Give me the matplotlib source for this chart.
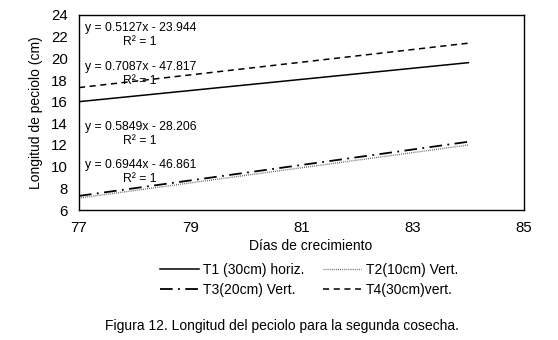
import matplotlib.pyplot as plt

plt.rcParams['font.family'] = ['Liberation Sans', 'DejaVu Sans']

# trend line end points
dias = [77, 84]
t1 = [16.0, 19.6]
t2 = [7.1, 12.0]
t3 = [7.3, 12.3]
t4 = [17.3, 21.4]

ecuaciones = ['y = 0.5127x - 23.944', 'y = 0.7087x - 47.817',
              'y = 0.5849x - 28.206', 'y = 0.6944x - 46.861']
eq_y = [28, 67, 127, 165]  # pixel rows of the labels

W, H = 558, 340
fig = plt.figure(figsize=(W / 100, H / 100), dpi=100)
ax = fig.add_axes([79 / W, 1 - 210 / H, (524 - 79) / W, (210 - 15) / H])

l1, = ax.plot(dias, t1, color='black', lw=1.1, ls='-', label='T1 (30cm) horiz.')
l2, = ax.plot(dias, t2, color='#555555', lw=1.0, ls=(0, (0.6, 0.9)), label='T2(10cm) Vert.')
l3, = ax.plot(dias, t3, color='black', lw=1.3, ls=(0, (7, 3, 1, 3)), label='T3(20cm) Vert.')
l4, = ax.plot(dias, t4, color='black', lw=1.1, ls=(0, (4, 3)), label='T4(30cm)vert.')

ax.set_xlim(77, 85)
ax.set_ylim(6, 24)
ax.set_xticks([77, 79, 81, 83, 85])
ax.set_yticks(range(6, 25, 2))
ax.tick_params(length=0, labelsize=10.8)
ax.tick_params(axis='y', pad=8)
ax.tick_params(axis='x', pad=8)
for s in ax.spines.values():
    s.set_linewidth(1.0)
    s.set_color('black')

ax.set_ylabel('Longitud de peciolo (cm)', fontsize=10, labelpad=6)
fig.text(311 / W, 1 - 246 / H, 'Días de crecimiento', fontsize=10, ha='center', va='center')

for txt, yp in zip(ecuaciones, eq_y):
    fig.text(85 / W, 1 - yp / H, txt, fontsize=8.8, va='center', ha='left')
    fig.text(123 / W, 1 - (yp + 14) / H, 'R² = 1', fontsize=8.8, va='center', ha='left')

fig.legend([l1, l3, l2, l4], [l1.get_label(), l3.get_label(), l2.get_label(), l4.get_label()],
           ncol=2, loc='center', bbox_to_anchor=(309 / W, 1 - 280 / H), frameon=False,
           fontsize=10, handlelength=2.8, columnspacing=1.3, labelspacing=0.45,
           handletextpad=0.3, borderpad=0)

fig.text(282 / W, 1 - 326 / H, 'Figura 12. Longitud del peciolo para la segunda cosecha.',
         fontsize=10, ha='center', va='center')

fig.savefig('out.png', dpi=100)
